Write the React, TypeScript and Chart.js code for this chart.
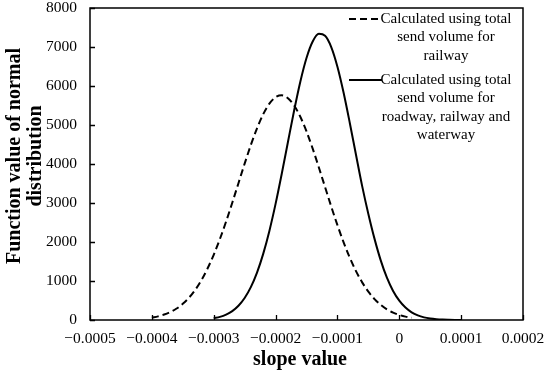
import React, { useEffect, useRef } from "react";
import { Chart, registerables } from "chart.js";

Chart.register(...registerables);

// x positions (slope value) for each series
const railwayX = [
  -0.0004, -0.00039, -0.00038, -0.00037, -0.00036, -0.00035, -0.00034, -0.00033, -0.00032, -0.00031,
  -0.0003, -0.00029, -0.00028, -0.00027, -0.00026, -0.00025, -0.00024, -0.00023, -0.00022, -0.00021,
  -0.0002, -0.00019, -0.00018, -0.00017, -0.00016, -0.00015, -0.00014, -0.00013, -0.00012, -0.00011,
  -0.0001, -0.00009, -0.00008, -0.00007, -0.00006, -0.00005, -0.00004, -0.00003, -0.00002, -0.00001,
  0, 0.00001, 0.00002,
];
const railwayY = [
  61, 93, 140, 205, 294, 414, 571, 770, 1019, 1319,
  1672, 2076, 2525, 3007, 3508, 4009, 4486, 4916, 5277, 5547,
  5712, 5760, 5688, 5501, 5212, 4835, 4394, 3910, 3408, 2909,
  2432, 1992, 1597, 1254, 965, 727, 536, 388, 274, 190,
  129, 86, 56,
];

const allModesX = [
  -0.0003, -0.00029, -0.00028, -0.00027, -0.00026, -0.00025, -0.00024, -0.00023, -0.00022, -0.00021,
  -0.0002, -0.00019, -0.00018, -0.00017, -0.00016, -0.00015, -0.00014, -0.00013, -0.00012, -0.00011,
  -0.0001, -0.00009, -0.00008, -0.00007, -0.00006, -0.00005, -0.00004, -0.00003, -0.00002, -0.00001,
  0, 0.00001, 0.00002, 0.00003, 0.00004, 0.00005, 0.00006, 0.00007, 0.00008, 0.00009, 0.0001,
];
const allModesY = [
  46, 81, 139, 229, 366, 565, 843, 1216, 1696, 2285,
  2977, 3750, 4564, 5372, 6111, 6719, 7142, 7339, 7289, 6999,
  6495, 5827, 5053, 4237, 3433, 2720, 2080, 1530, 1085, 745,
  495, 318, 196, 118, 68, 38, 20, 10, 5, 2, 1,
];

const railwayLegend = ["Calculated using total", "send volume for", "railway"];
const allModesLegend = ["Calculated using total", "send volume for", "roadway, railway and", "waterway"];

const yTitleLines = ["Function value of normal", "distribution"];
const xTitle = "slope value";

const X_MIN = -0.0005;
const X_MAX = 0.0002;
const X_STEP = 0.0001;
const Y_MIN = 0;
const Y_MAX = 8000;
const Y_STEP = 1000;

const SERIF = "'Liberation Serif', 'Times New Roman', serif";

function fmtX(v: number): string {
  const r = Math.round(v * 1e4) / 1e4;
  if (r === 0) return "0";
  return (r < 0 ? "\u2212" : "") + Math.abs(r).toFixed(4);
}

const decorPlugin = {
  id: "decor",
  afterDatasetsDraw(chart: any) {
    const { ctx, chartArea, scales } = chart;
    const { left, right, top, bottom } = chartArea;
    ctx.save();
    // inner tick marks
    ctx.strokeStyle = "#000";
    ctx.lineWidth = 1.3;
    ctx.beginPath();
    for (const t of scales.x.ticks) {
      const px = Math.round(scales.x.getPixelForValue(t.value)) + 0.5;
      ctx.moveTo(px, bottom);
      ctx.lineTo(px, bottom - 5);
    }
    for (const t of scales.y.ticks) {
      const py = Math.round(scales.y.getPixelForValue(t.value)) + 0.5;
      ctx.moveTo(left, py);
      ctx.lineTo(left + 5, py);
    }
    ctx.stroke();
    // frame
    ctx.lineWidth = 1.5;
    ctx.strokeRect(left, top, right - left, bottom - top);

    // legend
    ctx.fillStyle = "#000";
    ctx.font = `15px ${SERIF}`;
    ctx.textAlign = "center";
    ctx.textBaseline = "middle";
    const lx0 = left + 259;
    const lx1 = left + 292;
    const tx = left + 356;
    const drawEntry = (lines: string[], y0: number, dash: number[]) => {
      ctx.save();
      ctx.lineWidth = 2;
      ctx.setLineDash(dash);
      ctx.beginPath();
      ctx.moveTo(lx0, y0);
      ctx.lineTo(lx1, y0);
      ctx.stroke();
      ctx.restore();
      lines.forEach((s, i) => ctx.fillText(s, tx, y0 + i * 18.3));
    };
    drawEntry(railwayLegend, top + 11, [7, 4]);
    drawEntry(allModesLegend, top + 72, []);

    // axis titles
    ctx.font = `bold 20px ${SERIF}`;
    ctx.save();
    ctx.translate(0, 156);
    ctx.rotate(-Math.PI / 2);
    ctx.fillText(yTitleLines[0], 0, 15);
    ctx.fillText(yTitleLines[1], 0, 36);
    ctx.restore();
    ctx.fillText(xTitle, 300, 360);
    ctx.restore();
  },
};

export default function App() {
  const ref = useRef<HTMLCanvasElement | null>(null);
  useEffect(() => {
    document.body.style.margin = "0";
    const canvas = ref.current;
    if (!canvas) return;
    const chart = new Chart(canvas, {
      type: "line",
      data: {
        datasets: [
          {
            label: railwayLegend.join(" "),
            data: railwayX.map((x, i) => ({ x, y: railwayY[i] })),
            borderColor: "#000",
            borderWidth: 2,
            borderDash: [7, 4],
            pointRadius: 0,
            cubicInterpolationMode: "monotone",
            fill: false,
          },
          {
            label: allModesLegend.join(" "),
            data: allModesX.map((x, i) => ({ x, y: allModesY[i] })),
            borderColor: "#000",
            borderWidth: 2,
            pointRadius: 0,
            cubicInterpolationMode: "monotone",
            fill: false,
          },
        ],
      },
      options: {
        responsive: false,
        animation: false,
        devicePixelRatio: 1,
        layout: { padding: { top: 8, right: 27, left: 0, bottom: 0 } },
        plugins: { legend: { display: false }, tooltip: { enabled: false } },
        scales: {
          x: {
            type: "linear",
            min: X_MIN,
            max: X_MAX,
            grid: { display: false, drawTicks: false },
            border: { display: false },
            ticks: {
              stepSize: X_STEP,
              color: "#000",
              font: { family: SERIF, size: 15.5 },
              padding: 10,
              maxRotation: 0,
              autoSkip: false,
              callback: (v: any) => fmtX(Number(v)),
            },
            afterFit: (s: any) => {
              s.height = 54;
              s.paddingLeft = 0;
              s.paddingRight = 0;
            },
          },
          y: {
            min: Y_MIN,
            max: Y_MAX,
            grid: { display: false, drawTicks: false },
            border: { display: false },
            ticks: {
              stepSize: Y_STEP,
              color: "#000",
              font: { family: SERIF, size: 15.5 },
              padding: 13,
              callback: (v: any) => String(Math.round(Number(v))),
            },
            afterFit: (s: any) => {
              s.width = 90;
              s.paddingTop = 0;
              s.paddingBottom = 0;
            },
          },
        },
      },
      plugins: [decorPlugin],
    } as any);
    return () => chart.destroy();
  }, []);
  return (
    <div style={{ width: 550, height: 374, background: "#fff" }}>
      <canvas ref={ref} width={550} height={374} />
    </div>
  );
}
